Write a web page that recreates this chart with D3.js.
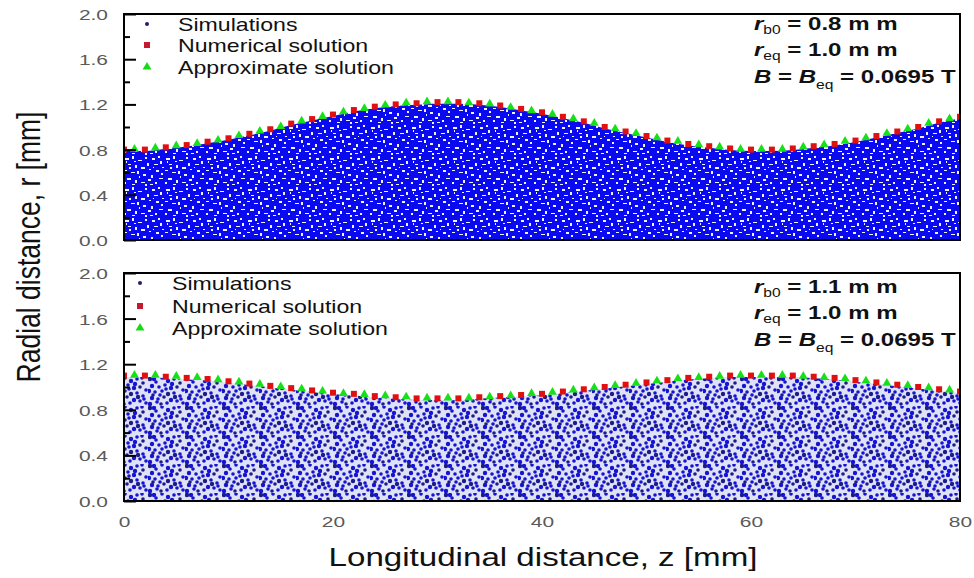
<!DOCTYPE html>
<html>
<head>
<meta charset="utf-8">
<script src="https://cdn.jsdelivr.net/npm/d3@7"></script>
<style>
  html, body { margin: 0; padding: 0; background: #fff; }
  svg { display: block; font-family: "Liberation Sans", Arial, sans-serif; }
</style>
</head>
<body>
<svg id="chart" width="974" height="578"></svg>
<script>
// Axial positions (mm) of the solution markers
const zNumerical   = [0,2,4,6,8,10,12,14,16,18,20,22,24,26,28,30,32,34,36,38,40,42,44,46,48,50,52,54,56,58,60,62,64,66,68,70,72,74,76,78,80];
const zApproximate = [1,3,5,7,9,11,13,15,17,19,21,23,25,27,29,31,33,35,37,39,41,43,45,47,49,51,53,55,57,59,61,63,65,67,69,71,73,75,77,79];

// Beam edge radius (mm), case r_b0 = 0.8 mm
const numericalA   = [0.80,0.80,0.82,0.84,0.87,0.90,0.94,0.98,1.03,1.07,1.11,1.15,1.18,1.20,1.21,1.22,1.22,1.21,1.19,1.16,1.13,1.09,1.05,1.00,0.96,0.92,0.88,0.85,0.83,0.81,0.80,0.80,0.81,0.83,0.85,0.88,0.92,0.96,1.00,1.05,1.09];
const approximateA = [0.80,0.81,0.83,0.85,0.88,0.92,0.96,1.00,1.05,1.09,1.13,1.16,1.19,1.21,1.22,1.22,1.21,1.20,1.17,1.14,1.11,1.07,1.03,0.98,0.94,0.90,0.87,0.84,0.82,0.80,0.80,0.80,0.82,0.84,0.87,0.90,0.94,0.98,1.03,1.07];

// Beam edge radius (mm), case r_b0 = 1.1 mm
const numericalB   = [1.10,1.10,1.09,1.08,1.07,1.05,1.03,1.01,0.99,0.97,0.95,0.94,0.92,0.91,0.90,0.90,0.90,0.91,0.92,0.93,0.94,0.96,0.98,1.00,1.02,1.04,1.06,1.08,1.09,1.10,1.10,1.10,1.10,1.09,1.08,1.06,1.04,1.02,1.00,0.98,0.96];
const approximateB = [1.10,1.10,1.09,1.08,1.06,1.04,1.02,1.00,0.98,0.96,0.94,0.93,0.92,0.91,0.90,0.90,0.90,0.91,0.92,0.94,0.95,0.97,0.99,1.01,1.03,1.05,1.07,1.08,1.09,1.10,1.10,1.10,1.09,1.08,1.07,1.05,1.03,1.01,0.99,0.97];

// Axis ticks
const rMajorTicks = [0.0, 0.4, 0.8, 1.2, 1.6, 2.0];
const rMinorTicks = [0.2, 0.6, 1.0, 1.4, 1.8];
const zTicks = [0, 20, 40, 60, 80];

// Labels
const legendLabels = ["Simulations", "Numerical solution", "Approximate solution"];
const paramsA = { rb0: "0.8", req: "1.0", B: "0.0695" };
const paramsB = { rb0: "1.1", req: "1.0", B: "0.0695" };

const svg = d3.select("#chart");
const SX = 1.25; // horizontal stretch of the lettering

// ---- particle textures -------------------------------------------------
const defs = svg.append("defs");

// dense cloud: solid blue with scattered light gaps
const dense = defs.append("pattern").attr("id", "cloudDense")
  .attr("patternUnits", "userSpaceOnUse").attr("width", 41).attr("height", 31);
dense.append("rect").attr("width", 41).attr("height", 31).attr("fill", "#0a0aef");
[[2,3,4,2],[9,1,2,3],[15,5,4,1],[22,2,2,2],[5,9,3,1],[12,10,2,3],[18,12,4,2],[1,15,3,1],
 [8,17,4,1],[14,16,2,3],[24,8,2,3],[6,12,2,2],[20,19,3,2],[11,6,2,1],[26,14,2,1],[3,6,1,2],
 [29,3,3,2],[35,1,2,2],[31,9,4,1],[37,6,2,3],[33,15,3,2],[28,20,2,3],[38,18,2,2],[4,23,4,2],
 [12,25,2,3],[18,27,4,1],[25,24,3,2],[32,27,2,2],[36,23,4,1],[9,29,3,1],[22,29,2,2],[16,21,1,2],
 [1,27,2,2],[30,12,1,1],[39,12,2,1],[27,29,3,1]]
  .forEach(([a,b,w,h]) => dense.append("rect").attr("x",a).attr("y",b).attr("width",w).attr("height",h).attr("fill","#f0f2ff"));

// sparse cloud: blue points on a pale ground
const sparse = defs.append("pattern").attr("id", "cloudSparse")
  .attr("patternUnits", "userSpaceOnUse").attr("width", 37).attr("height", 29);
sparse.append("rect").attr("width", 37).attr("height", 29).attr("fill", "#dfe1f4");
[[2,2],[8,5],[14,1],[20,4],[26,2],[32,6],[4,9],[11,10],[17,8],[23,11],[29,10],[35,13],
 [1,14],[7,15],[14,14],[20,17],[26,16],[32,19],[4,21],[10,22],[16,20],[23,23],[29,24],[35,26],
 [2,27],[13,27],[19,26],[6,2],[31,1],[12,18],[27,20],[18,12],[9,25],[24,7],[33,22],[5,18]]
  .forEach(([a,b], i) => sparse.append("circle").attr("cx",a).attr("cy",b).attr("r", i % 3 === 0 ? 2.2 : 1.8)
    .attr("fill", i % 5 === 0 ? "#1c1c86" : "#1414d2"));

// ---- scales --------------------------------------------------------------
const x = d3.scaleLinear().domain([0, 80]).range([124, 960]);

const panels = [
  { top: 14,  bottom: 240, num: numericalA, app: approximateA, fill: "url(#cloudDense)",
    params: paramsA, legX: 147, legTextX: 178, legY: [24, 45, 67], parY: [30, 56, 83], xLabels: false },
  { top: 273, bottom: 501, num: numericalB, app: approximateB, fill: "url(#cloudSparse)",
    params: paramsB, legX: 140, legTextX: 172, legY: [283, 306, 328], parY: [293, 319, 346], xLabels: true }
];

function sText(g, px, py, str, size, anchor, weight, sx) {
  return g.append("text")
    .attr("transform", `translate(${px},${py}) scale(${sx || SX},1)`)
    .attr("text-anchor", anchor || "start")
    .attr("font-size", size)
    .attr("font-weight", weight || "normal")
    .text(str);
}

panels.forEach(p => {
  const y = d3.scaleLinear().domain([0, 2]).range([p.bottom, p.top]);
  const g = svg.append("g");

  const clipId = "clip" + p.top;
  defs.append("clipPath").attr("id", clipId).append("rect")
    .attr("x", x(0)).attr("y", y(2)).attr("width", x(80) - x(0)).attr("height", y(0) - y(2));

  // Simulated particle cloud beneath the beam edge
  const edge = zNumerical.map((z, i) => [z, p.num[i]]);
  const area = d3.area().x(d => x(d[0])).y0(y(0)).y1(d => y(d[1]) + 1.5).curve(d3.curveMonotoneX);
  g.append("path").datum(edge).attr("d", area).attr("fill", p.fill).attr("clip-path", `url(#${clipId})`);

  // Numerical solution: red squares
  g.append("g").attr("clip-path", `url(#${clipId})`).selectAll("rect")
    .data(zNumerical.map((z, i) => [z, p.num[i]]))
    .join("rect")
    .attr("x", d => x(d[0]) - 3).attr("y", d => y(d[1]) - 3)
    .attr("width", 6).attr("height", 6).attr("fill", "#e01010");

  // Approximate solution: green triangles
  const tri = d3.symbol().type(d3.symbolTriangle).size(34);
  g.append("g").attr("clip-path", `url(#${clipId})`).selectAll("path")
    .data(zApproximate.map((z, i) => [z, p.app[i]]))
    .join("path")
    .attr("transform", d => `translate(${x(d[0])},${y(d[1]) - 0.5})`)
    .attr("d", tri).attr("fill", "#18e018");

  // Frame
  g.append("rect").attr("x", x(0)).attr("y", y(2)).attr("width", x(80) - x(0)).attr("height", y(0) - y(2))
    .attr("fill", "none").attr("stroke", "#000").attr("stroke-width", 2);

  // Radial axis: inward major and minor ticks
  const major = d3.axisLeft(y).tickValues(rMajorTicks).tickSizeInner(-12).tickSizeOuter(0)
    .tickPadding(0).tickFormat(d3.format(".1f"));
  const ax = g.append("g").attr("transform", `translate(${x(0)},0)`).call(major);
  ax.select(".domain").remove();
  ax.selectAll(".tick line").attr("stroke", "#000").attr("stroke-width", 2);
  ax.selectAll(".tick text")
    .attr("x", null).attr("dy", null)
    .attr("transform", `translate(-16,0) scale(1.35,1)`)
    .attr("dominant-baseline", "central")
    .attr("font-size", 15.5).attr("fill", "#5a5a5a")
    .attr("font-family", "'Liberation Sans', Arial, sans-serif");

  const minor = d3.axisLeft(y).tickValues(rMinorTicks).tickSizeInner(-6).tickSizeOuter(0).tickFormat("");
  const mx = g.append("g").attr("transform", `translate(${x(0)},0)`).call(minor);
  mx.select(".domain").remove();
  mx.selectAll(".tick line").attr("stroke", "#000").attr("stroke-width", 2);

  // Longitudinal axis labels on the lower panel
  if (p.xLabels) {
    const xa = d3.axisBottom(x).tickValues(zTicks).tickSize(0).tickPadding(0);
    const xg = g.append("g").attr("transform", `translate(0,${y(0)})`).call(xa);
    xg.select(".domain").remove();
    xg.selectAll(".tick text")
      .attr("y", null).attr("dy", null)
      .attr("transform", `translate(0,21) scale(1.35,1)`)
      .attr("dominant-baseline", "central")
      .attr("font-size", 15.5).attr("fill", "#5a5a5a")
      .attr("font-family", "'Liberation Sans', Arial, sans-serif");
  }

  // Legend
  g.append("circle").attr("cx", p.legX).attr("cy", p.legY[0]).attr("r", 2).attr("fill", "#202070");
  g.append("rect").attr("x", p.legX - 3).attr("y", p.legY[1] - 3).attr("width", 6).attr("height", 6).attr("fill", "#c81830");
  g.append("path").attr("transform", `translate(${p.legX},${p.legY[2]})`).attr("d", tri).attr("fill", "#18d818");
  legendLabels.forEach((t, i) =>
    sText(g, p.legTextX, p.legY[i] + 7, t, 18.5).attr("fill", "#111"));

  // Beam parameters
  const px = 754, fs = 18.5, sub = 12, sx = 1.3;
  const t1 = sText(g, px, p.parY[0], "", fs, "start", "bold", sx).attr("fill", "#111");
  t1.append("tspan").attr("font-style", "italic").text("r");
  t1.append("tspan").attr("font-size", sub).attr("font-weight", "normal").attr("dy", 4).text("b0");
  t1.append("tspan").attr("dy", -4).text(` = ${p.params.rb0} m m`);

  const t2 = sText(g, px, p.parY[1], "", fs, "start", "bold", sx).attr("fill", "#111");
  t2.append("tspan").attr("font-style", "italic").text("r");
  t2.append("tspan").attr("font-size", sub).attr("font-weight", "normal").attr("dy", 4).text("eq");
  t2.append("tspan").attr("dy", -4).text(` = ${p.params.req} m m`);

  const t3 = sText(g, px, p.parY[2], "", fs, "start", "bold", sx).attr("fill", "#111");
  t3.append("tspan").attr("font-style", "italic").text("B");
  t3.append("tspan").text(" = ");
  t3.append("tspan").attr("font-style", "italic").text("B");
  t3.append("tspan").attr("font-size", sub).attr("font-weight", "normal").attr("dy", 6).text("eq");
  t3.append("tspan").attr("dy", -6).text(` = ${p.params.B} T`);
});

// Axis titles
svg.append("text")
  .attr("transform", `translate(543,566) scale(${SX},1)`)
  .attr("text-anchor", "middle").attr("font-size", 26.5).attr("fill", "#111")
  .text("Longitudinal distance, z [mm]");

svg.append("text")
  .attr("transform", `translate(40,247) scale(${SX},1) rotate(-90)`)
  .attr("text-anchor", "middle").attr("font-size", 26.5).attr("fill", "#111")
  .text("Radial distance, r [mm]");
</script>
</body>
</html>
